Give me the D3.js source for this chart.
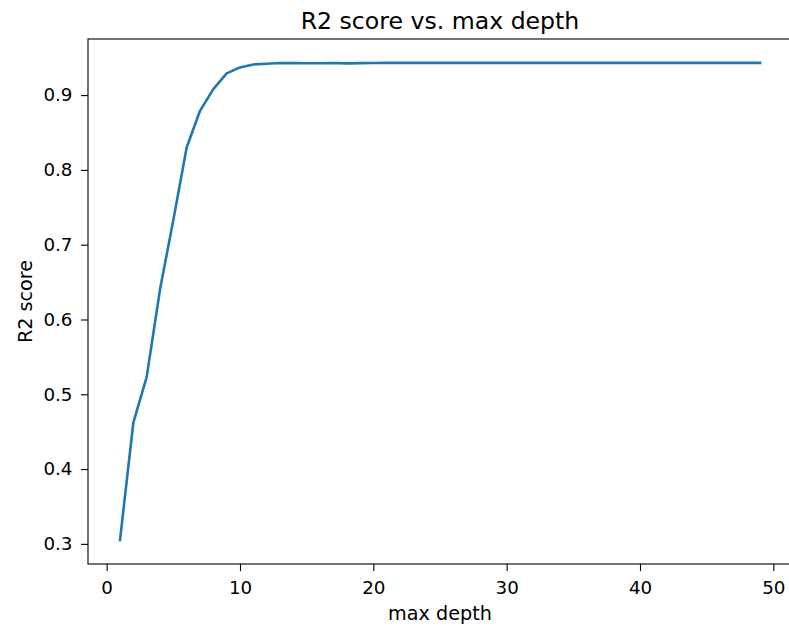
<!DOCTYPE html>
<html>
<head>
<meta charset="utf-8">
<script src="https://cdn.jsdelivr.net/npm/d3@7"></script>
<style>
  body { margin: 0; background: #fff; }
  text { font-family: "DejaVu Sans", sans-serif; fill: #000; }
</style>
</head>
<body>
<div id="chart"></div>
<script>
// max depth values (1..49)
const depths = d3.range(1, 50);
// R2 score
const scores = [
  0.305, 0.462, 0.523, 0.640, 0.733, 0.830, 0.879, 0.908, 0.929, 0.937,
  0.941, 0.942, 0.943, 0.9428, 0.9426, 0.9426, 0.9430, 0.9424, 0.9428, 0.9430,
  0.9431, 0.9431, 0.9431, 0.9431, 0.9431, 0.9431, 0.9431, 0.9431, 0.9431, 0.9431,
  0.9431, 0.9431, 0.9431, 0.9431, 0.9431, 0.9431, 0.9431, 0.9431, 0.9431, 0.9431,
  0.9431, 0.9431, 0.9431, 0.9431, 0.9431, 0.9431, 0.9431, 0.9431, 0.9431
];
const xTicks = [0, 10, 20, 30, 40, 50];
const yTicks = [0.3, 0.4, 0.5, 0.6, 0.7, 0.8, 0.9];

const data = depths.map((d, i) => ({depth: d, score: scores[i]}));

const width = 789, height = 628;
const margin = {top: 39, right: -3, bottom: 64, left: 88};
const innerW = width - margin.left - margin.right,
      innerH = height - margin.top - margin.bottom;

const svg = d3.select('#chart')
  .append('svg')
  .attr('width', width)
  .attr('height', height);

const g = svg.append('g')
  .attr('transform', `translate(${margin.left},${margin.top})`);

// matplotlib style 5% margins
const xMin = d3.min(depths), xMax = d3.max(depths);
const xPad = (xMax - xMin) * 0.05;
const yMin = d3.min(scores), yMax = d3.max(scores);
const yPad = (yMax - yMin) * 0.05;

const x = d3.scaleLinear()
  .domain([xMin - xPad, xMax + xPad])
  .range([0, innerW]);

const y = d3.scaleLinear()
  .domain([yMin - yPad, yMax + yPad])
  .range([innerH, 0]);

const tickFont = 18.3, labelFont = 19.2;

// X axis
const xAxis = g.append('g')
  .attr('transform', `translate(0,${innerH})`)
  .call(d3.axisBottom(x).tickValues(xTicks).tickSize(7).tickPadding(10).tickFormat(d3.format('d')));
xAxis.select('.domain').remove();
xAxis.selectAll('line').attr('stroke', '#000').attr('stroke-width', 1.1);
xAxis.selectAll('text').style('font-size', tickFont + 'px').attr('font-family', 'DejaVu Sans');

// Y axis
const yAxis = g.append('g')
  .call(d3.axisLeft(y).tickValues(yTicks).tickSize(7).tickPadding(8.5).tickFormat(d3.format('.1f')));
yAxis.select('.domain').remove();
yAxis.selectAll('line').attr('stroke', '#000').attr('stroke-width', 1.1);
yAxis.selectAll('text').style('font-size', tickFont + 'px').attr('font-family', 'DejaVu Sans');

// line
const line = d3.line()
  .x(d => x(d.depth))
  .y(d => y(d.score));

g.append('path')
  .datum(data)
  .attr('fill', 'none')
  .attr('stroke', '#1f77b4')
  .attr('stroke-width', 2.6)
  .attr('stroke-linejoin', 'round')
  .attr('stroke-linecap', 'square')
  .attr('d', line);

// spines
g.append('rect')
  .attr('x', 0).attr('y', 0)
  .attr('width', innerW).attr('height', innerH)
  .attr('fill', 'none')
  .attr('stroke', '#000')
  .attr('stroke-width', 1.1);

// title and labels
svg.append('text')
  .attr('x', margin.left + innerW / 2)
  .attr('y', 28.5)
  .attr('text-anchor', 'middle')
  .style('font-size', '23.6px')
  .text('R2 score vs. max depth');

svg.append('text')
  .attr('x', margin.left + innerW / 2)
  .attr('y', 620)
  .attr('text-anchor', 'middle')
  .style('font-size', labelFont + 'px')
  .text('max depth');

svg.append('text')
  .attr('transform', `translate(31.5,${margin.top + innerH / 2}) rotate(-90)`)
  .attr('text-anchor', 'middle')
  .style('font-size', labelFont + 'px')
  .text('R2 score');
</script>
</body>
</html>
